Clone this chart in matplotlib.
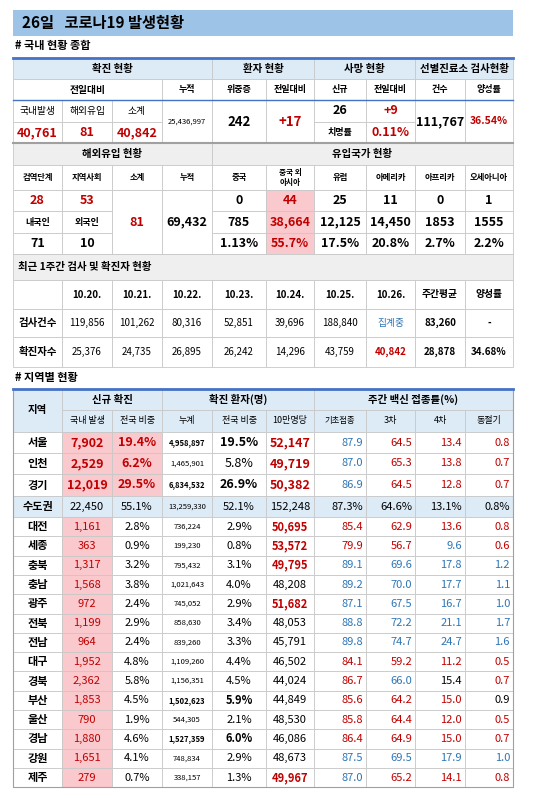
import matplotlib.pyplot as plt
from matplotlib.patches import Rectangle

plt.rcParams['font.family'] = ['Noto Sans CJK KR', 'DejaVu Sans']

RED = "#c00000"
BLUE = "#2e75b6"
PINK = "#f9c9ce"
LBLUE = "#ddebf7"
GRAY = "#efefef"
LINE = "#c8c8c8"

# ---- data ----
title = "26일   코로나19 발생현황"
x_cols = [13, 62, 112, 162, 212, 266, 314, 366, 415, 465, 513]

summary_headers = ["확진 현황", "환자 현황", "사망 현황", "선별진료소 검사현황"]
summary_sub = ["전일대비", "누적", "위중증", "전일대비", "신규", "전일대비", "건수", "양성률"]
confirmed_labels = ["국내발생", "해외유입", "소계"]
confirmed_vals = ["40,761", "81", "40,842"]
cumulative = "25,436,997"
critical, critical_diff = "242", "+17"
deaths, deaths_diff, fatality = "26", "+9", "0.11%"
tests, positivity = "111,767", "36.54%"

import_headers = ["검역단계", "지역사회", "소계", "누적", "중국", "중국 외\n아시아",
                  "유럽", "아메리카", "아프리카", "오세아니아"]
import_stage = ["28", "53"]
import_nat = ["내국인", "외국인"]
import_nat_vals = ["71", "10"]
import_total, import_cum = "81", "69,432"
country_new = ["0", "44", "25", "11", "0", "1"]
country_cum = ["785", "38,664", "12,125", "14,450", "1853", "1555"]
country_pct = ["1.13%", "55.7%", "17.5%", "20.8%", "2.7%", "2.2%"]

week_dates = ["10.20.", "10.21.", "10.22.", "10.23.", "10.24.", "10.25.", "10.26.", "주간평균", "양성률"]
week_tests = ["119,856", "101,262", "80,316", "52,851", "39,696", "188,840", "집계중", "83,260", "-"]
week_cases = ["25,376", "24,735", "26,895", "26,242", "14,296", "43,759", "40,842", "28,878", "34.68%"]

regions = ["서울", "인천", "경기", "수도권", "대전", "세종", "충북", "충남", "광주", "전북",
           "전남", "대구", "경북", "부산", "울산", "경남", "강원", "제주"]
local_new = ["7,902", "2,529", "12,019", "22,450", "1,161", "363", "1,317", "1,568", "972", "1,199",
             "964", "1,952", "2,362", "1,853", "790", "1,880", "1,651", "279"]
new_share = ["19.4%", "6.2%", "29.5%", "55.1%", "2.8%", "0.9%", "3.2%", "3.8%", "2.4%", "2.9%",
             "2.4%", "4.8%", "5.8%", "4.5%", "1.9%", "4.6%", "4.1%", "0.7%"]
total_cases = ["4,958,897", "1,465,901", "6,834,532", "13,259,330", "736,224", "199,230", "795,432",
               "1,021,643", "745,052", "858,630", "839,260", "1,109,260", "1,156,351", "1,502,623",
               "544,305", "1,527,359", "748,834", "338,157"]
total_share = ["19.5%", "5.8%", "26.9%", "52.1%", "2.9%", "0.8%", "3.1%", "4.0%", "2.9%", "3.4%",
               "3.3%", "4.4%", "4.5%", "5.9%", "2.1%", "6.0%", "2.9%", "1.3%"]
per100k = ["52,147", "49,719", "50,382", "152,248", "50,695", "53,572", "49,795", "48,208", "51,682",
           "48,053", "45,791", "46,502", "44,024", "44,849", "48,530", "46,086", "48,673", "49,967"]
vac_base = ["87.9", "87.0", "86.9", "87.3%", "85.4", "79.9", "89.1", "89.2", "87.1", "88.8",
            "89.8", "84.1", "86.7", "85.6", "85.8", "86.4", "87.5", "87.0"]
vac_3 = ["64.5", "65.3", "64.5", "64.6%", "62.9", "56.7", "69.6", "70.0", "67.5", "72.2",
         "74.7", "59.2", "66.0", "64.2", "64.4", "64.9", "69.5", "65.2"]
vac_4 = ["13.4", "13.8", "12.8", "13.1%", "13.6", "9.6", "17.8", "17.7", "16.7", "21.1",
         "24.7", "11.2", "15.4", "15.0", "12.0", "15.0", "17.9", "14.1"]
vac_w = ["0.8", "0.7", "0.7", "0.8%", "0.8", "0.6", "1.2", "1.1", "1.0", "1.7",
         "1.6", "0.5", "0.7", "0.9", "0.5", "0.7", "1.0", "0.8"]
# colour codes for the 4 vaccine columns (b=blue, r=red, k=black)
vac_codes = ["brrr", "brrr", "brrr", "kkkk", "rrrr", "rrbr", "bbbb", "bbbb", "bbbb", "bbbb",
             "bbbb", "rrrr", "rbkr", "rrrk", "rrrr", "rrrr", "bbbb", "brrr"]
per100k_style = ["R", "R", "r", "k", "R", "R", "R", "k", "R", "k", "k", "k", "k", "k", "k", "k", "k", "R"]
bold_total = [True, False, True, False, False, False, False, False, False, False,
              False, False, False, True, False, True, False, False]

fig = plt.figure(figsize=(5.5, 7.99), dpi=100)
ax = fig.add_axes([0, 0, 1, 1])
ax.set_xlim(0, 550)
ax.set_ylim(799, 0)
ax.axis("off")


def cell(x0, x1, y0, y1, text="", color="black", bold=False, size=7, bg=None,
         ha="center", edge=LINE):
    ax.add_patch(Rectangle((x0, y0), x1 - x0, y1 - y0, facecolor=bg or "white",
                           edgecolor=edge, lw=0.6))
    if text:
        if ha == "center":
            tx = (x0 + x1) / 2
        elif ha == "right":
            tx = x1 - 3
        else:
            tx = x0 + 5
        ax.text(tx, (y0 + y1) / 2, text, color=color, ha=ha, va="center",
                fontsize=size, fontweight="bold" if bold else "normal", linespacing=1.0)


X = x_cols
# title bar
ax.add_patch(Rectangle((13, 10), 500, 26, facecolor="#9dc3e6", edgecolor="none"))
ax.text(22, 23, title, fontsize=11, fontweight="bold", va="center")
ax.text(15, 46, "# 국내 현황 종합", fontsize=8, fontweight="bold", va="center")

# ---- summary table ----
for (a, b), t in zip([(0, 4), (4, 6), (6, 8), (8, 10)], summary_headers):
    cell(X[a], X[b], 58, 79, t, bold=True, size=7.5, bg=LBLUE)
cell(X[0], X[3], 79, 100, summary_sub[0], bold=True, size=7)
for i, t in enumerate(summary_sub[1:]):
    cell(X[3 + i], X[4 + i], 79, 100, t, bold=True, size=6.5)
for i in range(3):
    cell(X[i], X[i + 1], 100, 122, confirmed_labels[i], size=7)
    cell(X[i], X[i + 1], 122, 143, confirmed_vals[i], color=RED, bold=True, size=9)
cell(X[3], X[4], 100, 143, cumulative, size=5.5)
cell(X[4], X[5], 100, 143, critical, bold=True, size=9.5)
cell(X[5], X[6], 100, 143, critical_diff, color=RED, bold=True, size=9.5)
cell(X[6], X[7], 100, 122, deaths, bold=True, size=9)
cell(X[7], X[8], 100, 122, deaths_diff, color=RED, bold=True, size=9)
cell(X[6], X[7], 122, 143, "치명률", bold=True, size=6.5)
cell(X[7], X[8], 122, 143, fatality, color=RED, bold=True, size=9)
cell(X[8], X[9], 100, 143, tests, bold=True, size=9)
cell(X[9], X[10], 100, 143, positivity, color=RED, bold=True, size=7.5)
ax.plot([13, 513], [58, 58], color="#4472c4", lw=2)
ax.plot([13, 513], [100, 100], color="#4472c4", lw=1)
ax.plot([13, 513], [143, 143], color="#a0a0a0", lw=1.5)

# ---- imports ----
cell(X[0], X[4], 143, 165, "해외유입 현황", bold=True, size=7.5, bg=GRAY)
cell(X[4], X[10], 143, 165, "유입국가 현황", bold=True, size=7.5, bg=GRAY)
for i, t in enumerate(import_headers):
    cell(X[i], X[i + 1], 165, 190, t, bold=True, size=6 if i != 5 else 5.5)
for i in range(2):
    cell(X[i], X[i + 1], 190, 211, import_stage[i], color=RED, bold=True, size=9)
    cell(X[i], X[i + 1], 211, 233, import_nat[i], bold=True, size=6.5)
    cell(X[i], X[i + 1], 233, 254, import_nat_vals[i], bold=True, size=9)
cell(X[2], X[3], 190, 254, import_total, color=RED, bold=True, size=9)
cell(X[3], X[4], 190, 254, import_cum, bold=True, size=9)
for j in range(6):
    bg = PINK if j == 1 else None
    col = RED if j == 1 else "black"
    cell(X[4 + j], X[5 + j], 190, 211, country_new[j], color=col, bold=True, size=9, bg=bg)
    cell(X[4 + j], X[5 + j], 211, 233, country_cum[j], color=col, bold=True, size=9, bg=bg)
    cell(X[4 + j], X[5 + j], 233, 254, country_pct[j], color=col, bold=True, size=9, bg=bg)

# ---- weekly ----
cell(X[0], X[10], 254, 280, "최근 1주간 검사 및 확진자 현황", bold=True, size=7.5, bg=GRAY, ha="left")
cell(X[0], X[1], 280, 309, "")
cell(X[0], X[1], 309, 337, "검사건수", bold=True, size=7.5)
cell(X[0], X[1], 337, 367, "확진자수", bold=True, size=7.5)
for i in range(9):
    cell(X[1 + i], X[2 + i], 280, 309, week_dates[i], bold=True, size=7)
    tcol = BLUE if week_tests[i] == "집계중" else "black"
    cell(X[1 + i], X[2 + i], 309, 337, week_tests[i], color=tcol, bold=i >= 7, size=7)
    ccol = RED if i == 6 else "black"
    cell(X[1 + i], X[2 + i], 337, 367, week_cases[i], color=ccol, bold=i >= 6, size=7)

# ---- regional ----
ax.text(15, 378, "# 지역별 현황", fontsize=8, fontweight="bold", va="center")
cell(X[0], X[1], 389, 432, "지역", bold=True, size=7.5, bg=LBLUE)
for (a, b), t in zip([(1, 3), (3, 6), (6, 10)], ["신규 확진", "확진 환자(명)", "주간 백신 접종률(%)"]):
    cell(X[a], X[b], 389, 410, t, bold=True, size=7.5, bg=LBLUE)
for i, t in enumerate(["국내 발생", "전국 비중", "누계", "전국 비중", "10만명당",
                       "기초접종", "3차", "4차", "동절기"]):
    cell(X[1 + i], X[2 + i], 410, 432, t, size=6.5 if i != 5 else 6, bg=LBLUE)
ax.plot([13, 513], [389, 389], color="#4472c4", lw=2)

ys = [432, 453, 474, 496, 517]
ys += [517 + 19.3 * (k + 1) for k in range(14)]
cmap = {"b": BLUE, "r": RED, "k": "black"}
for r, name in enumerate(regions):
    y0, y1 = ys[r], ys[r + 1]
    big = r <= 3
    sz = 9 if big else 8
    if r == 3:
        bg = LBLUE
        cell(X[0], X[1], y0, y1, name, bold=True, size=8, bg=bg)
        for i, v in enumerate([local_new[r], new_share[r], total_cases[r], total_share[r],
                               per100k[r]]):
            cell(X[1 + i], X[2 + i], y0, y1, v, size=5.5 if i == 2 else 8, bg=bg)
        for i, v in enumerate([vac_base[r], vac_3[r], vac_4[r], vac_w[r]]):
            cell(X[6 + i], X[7 + i], y0, y1, v, size=8, bg=bg, ha="right")
        continue
    cell(X[0], X[1], y0, y1, name, bold=True, size=8)
    cell(X[1], X[2], y0, y1, local_new[r], color=RED, bold=big, size=sz, bg=PINK)
    cell(X[2], X[3], y0, y1, new_share[r], color=RED if big else "black", bold=big, size=sz,
         bg=PINK if big else None)
    cell(X[3], X[4], y0, y1, total_cases[r], bold=bold_total[r], size=5.5)
    cell(X[4], X[5], y0, y1, total_share[r], bold=bold_total[r], size=sz)
    st = per100k_style[r]
    cell(X[5], X[6], y0, y1, per100k[r], color=RED if st in "Rr" else "black",
         bold=st == "R" or (big and st == "r"), size=sz)
    for i, v in enumerate([vac_base[r], vac_3[r], vac_4[r], vac_w[r]]):
        cell(X[6 + i], X[7 + i], y0, y1, v, color=cmap[vac_codes[r][i]], size=8, ha="right")
ax.add_patch(Rectangle((13, 389), 500, ys[-1] - 389, fill=False, edgecolor="#a0a0a0", lw=0.8))

fig.savefig("out.png", dpi=100)
